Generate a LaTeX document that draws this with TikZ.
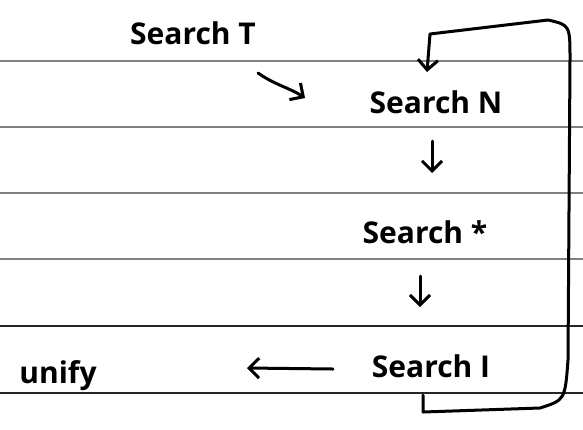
\documentclass[tikz,border=0pt]{standalone}
\usepackage{fontspec}
\setmainfont{Open Sans}
\usetikzlibrary{arrows.meta}
\begin{document}
\begin{tikzpicture}[x=1pt,y=-1pt,
  rule/.style={line width=1.3pt,draw=gray},
  ruledark/.style={line width=1.3pt,draw=black!85},
  lbl/.style={font=\fontsize{30}{32}\selectfont\bfseries,inner sep=1pt},
  pen/.style={line width=3pt,line cap=round,line join=round,-{Straight Barb[length=10pt,width=20pt,line width=3pt]}}]
\useasboundingbox[fill=white] (0,0) rectangle (583,429);
% ruled lines
\foreach \yy in {61,127,193,259}{\draw[rule] (0,\yy) -- (583,\yy);}
\foreach \yy in {326,393}{\draw[ruledark] (0,\yy) -- (583,\yy);}
% labels
\node[lbl] (t) at (193,33) {Search T};
\node[lbl] (n) at (436,102) {Search N};
\node[lbl] (s) at (425,232) {Search *};
\node[lbl] (i) at (431,366) {Search I};
\node[lbl] (u) at (58,376) {unify};
% arrows
\coordinate (ta) at (258,73);
\coordinate (tb) at (305,98);
\draw[pen] (ta) .. controls (275,85) and (290,88) .. (tb);
\coordinate (na) at (432,141);
\coordinate (sb) at (432,173);
\draw[pen] (na) -- (sb);
\coordinate (sa) at (420,276);
\coordinate (ib) at (420,307);
\draw[pen] (sa) -- (ib);
\coordinate (ia) at (333,369);
\coordinate (ub) at (247,368);
\draw[pen] (ia) -- (ub);
% loop
\coordinate (l0) at (423,395);
\coordinate (l1) at (423,412);
\coordinate (l2) at (540,408);
\coordinate (l3) at (568,360);
\coordinate (l4) at (570,60);
\coordinate (l5) at (548,20);
\coordinate (l6) at (430,34);
\coordinate (l7) at (427,72);
\draw[pen] (l0) -- (l1) -- (l2) .. controls (565,400) .. (l3) -- (l4) .. controls (570,25) .. (l5) -- (l6) -- (l7);
\end{tikzpicture}
\end{document}
